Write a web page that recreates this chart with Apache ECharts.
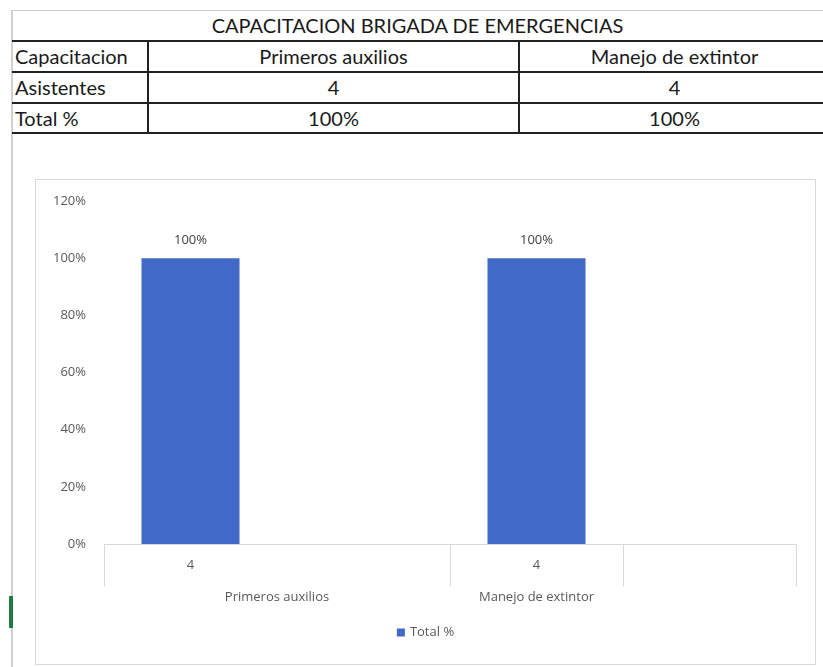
<!DOCTYPE html>
<html>
<head>
<meta charset="utf-8">
<script src="https://cdn.jsdelivr.net/npm/echarts@6/dist/echarts.min.js"></script>
<style>
  html, body { margin: 0; padding: 0; background: #fff; }
  body { width: 823px; height: 667px; position: relative; overflow: hidden; font-family: Lato, "Liberation Sans", sans-serif; }
  .sheet-top { position: absolute; left: 11px; top: 10px; width: 812px; height: 0; border-top: 1px solid #d0d0d0; }
  .sheet-left { position: absolute; left: 11px; top: 10px; width: 0; height: 657px; border-left: 2px solid #d0d0d0; }
  .green-mark { position: absolute; left: 9px; top: 596px; width: 4px; height: 32px; background: #1e7b45; }
  .cell { position: absolute; color: #1a1a1a; font-size: 20px; line-height: 30px; white-space: nowrap; }
  .hline { position: absolute; left: 12px; width: 811px; height: 2px; background: #222; }
  .vline { position: absolute; width: 2px; background: #222; }
  #chart { position: absolute; left: 35px; top: 179px; width: 779px; height: 484px; border: 1px solid #d9d9d9; }
</style>
</head>
<body>
<div class="sheet-top"></div>
<div class="sheet-left"></div>
<div class="green-mark"></div>
<div id="table"></div>
<div id="chart"></div>
<script>
// datos de la tabla / grafico
const titulo = 'CAPACITACION BRIGADA DE EMERGENCIAS'
const categorias = ['Primeros auxilios', 'Manejo de extintor']
const asistentes = [4, 4]
const totalPct = [1, 1]
const filas = ['Capacitacion', 'Asistentes', 'Total %']
const yTicks = [0, 0.2, 0.4, 0.6, 0.8, 1.0, 1.2]

const pct = v => Math.round(v * 100) + '%'

// tabla superior
const table = document.getElementById('table')
const addCell = (text, left, top, width, align) => {
  const d = document.createElement('div')
  d.className = 'cell'
  d.textContent = text
  d.style.left = left + 'px'
  d.style.top = top + 'px'
  d.style.width = width + 'px'
  d.style.textAlign = align
  table.appendChild(d)
}
const colX = [12, 148, 519, 830]
const rowY = [11, 41, 72, 103]
addCell(titulo, 12, 10, 811, 'center')
const valores = [categorias, asistentes, totalPct.map(pct)]
filas.forEach((f, r) => {
  addCell(f, 15, rowY[r + 1], 130, 'left')
  valores[r].forEach((v, c) => addCell(String(v), colX[c + 1], rowY[r + 1], colX[c + 2] - colX[c + 1], 'center'))
})
;[40, 71, 102, 132].forEach(y => {
  const l = document.createElement('div')
  l.className = 'hline'
  l.style.top = y + 'px'
  table.appendChild(l)
})
;[147, 518].forEach(x => {
  const l = document.createElement('div')
  l.className = 'vline'
  l.style.left = x + 'px'
  l.style.top = '40px'
  l.style.height = '93px'
  table.appendChild(l)
})

// grafico: 4 posiciones (cada categoria + hueco vacio)
const slots = []
const barData = []
categorias.forEach((c, i) => {
  slots.push(String(asistentes[i]), '')
  barData.push(totalPct[i], null)
})
// eje externo de medio paso (9 puntos)
const outer = ['', '', categorias[0], '', '', categorias[1], '', '', '']
const separadores = [0, 4, 6, 8]

const chart = echarts.init(document.getElementById('chart'))
const labelFont = { color: '#595959', fontSize: 13, fontFamily: '"Open Sans", "Noto Sans", sans-serif' }
chart.setOption({
  animation: false,
  grid: { left: 68, right: 19, top: 21, bottom: 120 },
  legend: {
    bottom: 20,
    left: 'center',
    itemWidth: 8,
    itemHeight: 8,
    icon: 'rect',
    textStyle: labelFont
  },
  xAxis: [
    {
      type: 'category',
      data: slots,
      axisLine: { lineStyle: { color: '#d9d9d9', width: 1 } },
      axisTick: { show: false },
      axisLabel: Object.assign({ margin: 15, interval: 0 }, labelFont)
    },
    {
      type: 'category',
      data: outer,
      boundaryGap: false,
      position: 'bottom',
      axisLine: { show: false },
      axisTick: {
        show: true,
        length: 42,
        interval: i => separadores.includes(i),
        lineStyle: { color: '#d9d9d9', width: 1 }
      },
      axisLabel: Object.assign({ margin: 47, interval: 0 }, labelFont)
    }
  ],
  yAxis: {
    type: 'value',
    min: 0,
    max: 1.2,
    interval: 0.2,
    splitLine: { show: false },
    axisLine: { show: false },
    axisTick: { show: false },
    axisLabel: Object.assign({ margin: 18, formatter: v => pct(v) }, labelFont)
  },
  series: [
    {
      name: 'Total %',
      type: 'bar',
      xAxisIndex: 0,
      data: barData,
      barWidth: 98,
      itemStyle: { color: '#4169c8' },
      label: {
        show: true,
        position: 'top',
        distance: 11,
        formatter: p => pct(p.value),
        color: '#404040',
        fontSize: 13,
        fontFamily: '"Open Sans", "Noto Sans", sans-serif'
      }
    }
  ]
})
</script>
</body>
</html>
